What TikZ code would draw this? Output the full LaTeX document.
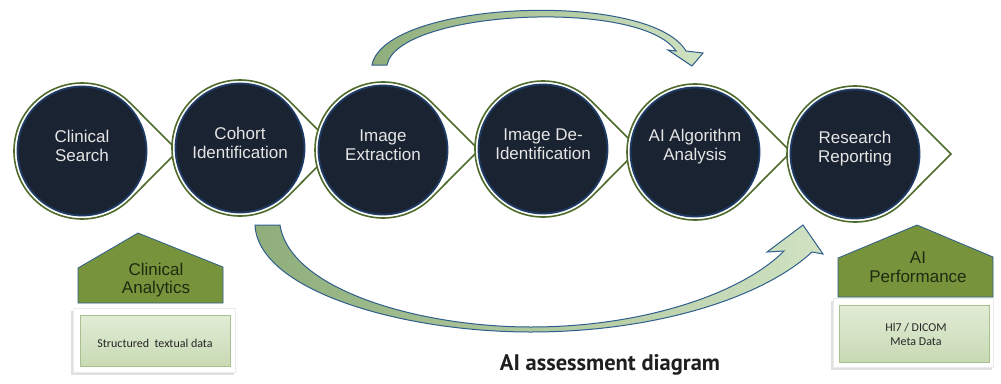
\documentclass[tikz,border=0pt]{standalone}
\usepackage{fontspec}
\setmainfont{Liberation Sans}
\newfontfamily\boxfont{Carlito}
\newfontfamily\capfont{PT Sans}
\usetikzlibrary{calc}

\definecolor{rimgreen}{HTML}{4F6B2C}
\definecolor{rimblue}{HTML}{1F3C66}
\definecolor{discin}{HTML}{1A2331}
\definecolor{discmid}{HTML}{283345}
\definecolor{discedge}{HTML}{56627A}
\definecolor{arrowline}{HTML}{2F5E8C}
\definecolor{arrowdark}{HTML}{8FAE7B}
\definecolor{arrowlight}{HTML}{D0E2C2}
\definecolor{roofgreen}{HTML}{77933C}
\definecolor{roofink}{HTML}{1E2B10}
\definecolor{boxtop}{HTML}{E2ECD6}
\definecolor{boxlow}{HTML}{C8DAB4}
\definecolor{boxline}{HTML}{A8BF90}

\pgfdeclareradialshading{discshade}{\pgfpoint{0bp}{0bp}}{color(0bp)=(discin); color(34bp)=(discin); color(45bp)=(discmid); color(50bp)=(discedge)}

\tikzset{
  teardrop/.style={fill=white,draw=rimgreen,line width=1.6pt,line join=miter},
  disc/.style={shading=discshade,draw=rimblue,line width=1.8pt},
  disctext/.style={text=white!90!black,font=\fontsize{17}{19}\selectfont,align=center},
  bigarrow/.style={draw=arrowline,line width=1pt,line join=miter,left color=arrowdark,right color=arrowlight},
  roof/.style={fill=roofgreen,draw=arrowline,line width=0.8pt},
  rooftext/.style={text=roofink,font=\fontsize{17}{18.5}\selectfont,align=center},
  boxshadow/.style={fill=black!12},
  boxframe/.style={fill=white,draw=black!8,line width=0.6pt},
  boxfill/.style={top color=boxtop,bottom color=boxlow,draw=boxline,line width=0.6pt},
  boxtext/.style={text=black!85,font=\boxfont\fontsize{12}{14}\selectfont,align=center},
  captext/.style={text=black!88,font=\capfont\bfseries\fontsize{22.5}{24}\selectfont}
}

\begin{document}
\begin{tikzpicture}[x=1pt,y=-1pt]
\useasboundingbox (0,0) rectangle (1001,383);

% process stages
\foreach \n/\x/\y/\txt in {1/82/151/{Clinical\\Search},2/240/148/{Cohort\\Identification},
  3/383/150/{Image\\Extraction},4/543/149/{Image De-\\Identification},
  5/695/152/{AI Algorithm\\Analysis},6/855/154/{Research\\Reporting}}{
  \path[teardrop] ($(\x,\y)+(45:68)$) arc[start angle=45,end angle=315,radius=68]
    -- ($(\x,\y)+(96,0)$) -- cycle;
  \path[disc] (\x,\y) circle[radius=64.5];
  \node[disctext] (c\n) at (\x,\y-5) {\txt};
}

% curved arrows
\path[bigarrow] (372,65) .. controls (385,0) and (650,-10) .. (686,51) -- (703,53)
  -- (692,66) -- (668,50) -- (676,51) .. controls (640,-2) and (398,10) .. (387,65) -- cycle;
\path[bigarrow] (255,225) .. controls (258,290) and (400,332) .. (531,332)
  .. controls (650,332) and (760,300) .. (812,252) -- (823,254) -- (803,225)
  -- (767,252) -- (784,251) .. controls (740,295) and (640,327) .. (531,327)
  .. controls (420,327) and (290,290) .. (280,225) -- cycle;

% left block
\path[roof] (138,233) -- (223,267) -- (223,303) -- (78,303) -- (78,268) -- cycle;
\node[rooftext] (clin) at (156,280) {Clinical\\Analytics};
\path[boxshadow] (71,311) rectangle (234,375);
\path[boxframe] (73,308) rectangle (235,372);
\path[boxfill] (80,315) rectangle (230,366);
\node[boxtext] (txtdata) at (155,343) {Structured\ \ textual data};

% right block
\path[roof] (917,225) -- (993,257) -- (993,297) -- (838,297) -- (838,258) -- cycle;
\node[rooftext] (perf) at (918,267) {AI\\Performance};
\path[boxshadow] (831,301) rectangle (992,370);
\path[boxframe] (833,298) rectangle (993,367);
\path[boxfill] (839,305) rectangle (989,362);
\node[boxtext] (meta) at (916,334) {Hl7 / DICOM\\Meta Data};

\node[captext] (cap) at (610,365) {AI assessment diagram};

\end{tikzpicture}
\end{document}
